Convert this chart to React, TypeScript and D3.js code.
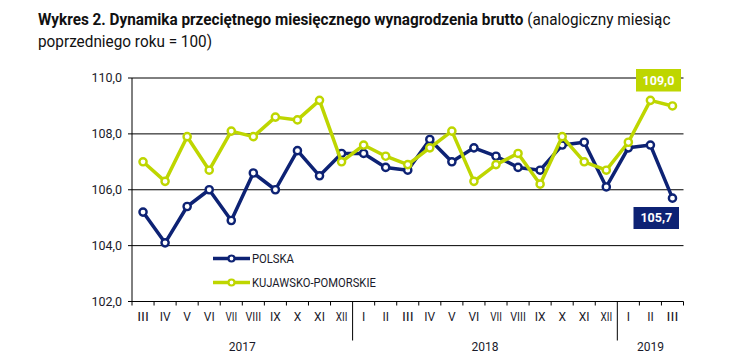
import React, { useLayoutEffect, useRef, useState } from "react";
import * as d3 from "d3";

const months = ["III","IV","V","VI","VII","VIII","IX","X","XI","XII","I","II","III","IV","V","VI","VII","VIII","IX","X","XI","XII","I","II","III"];
const years = [
  { label: "2017", start: 0, end: 10 },
  { label: "2018", start: 10, end: 22 },
  { label: "2019", start: 22, end: 25 },
];
const polska = [105.2,104.1,105.4,106.0,104.9,106.6,106.0,107.4,106.5,107.3,107.3,106.8,106.7,107.8,107.0,107.5,107.2,106.8,106.7,107.6,107.7,106.1,107.5,107.6,105.7];
const kujawsko = [107.0,106.3,107.9,106.7,108.1,107.9,108.6,108.5,109.2,107.0,107.6,107.2,106.9,107.5,108.1,106.3,106.9,107.3,106.2,107.9,107.0,106.7,107.7,109.2,109.0];
const yTicks = [102,104,106,108,110];
const seriesNames = ["POLSKA", "KUJAWSKO-POMORSKIE"];
const titleBold = "Wykres 2. Dynamika przeciętnego miesięcznego wynagrodzenia brutto";
const titleRest = " (analogiczny miesiąc";
const titleLine2 = "poprzedniego roku = 100)";

const NAVY = "#0d2274";
const GREEN = "#bed600";
const FONT = "Roboto, 'Noto Sans', sans-serif";

export default function App() {
  const W = 743, H = 362;
  const left = 132, right = 683.5, top = 78, bottom = 301.5;
  const x = d3.scaleBand<number>().domain(d3.range(months.length)).range([left, right]);
  const y = d3.scaleLinear().domain([102, 110]).range([bottom, top]);
  const cx = (i: number) => (x(i) as number) + x.bandwidth() / 2;
  const line = d3.line<number>().x((_, i) => cx(i)).y((d) => y(d));
  const fmt = (v: number) => v.toFixed(1).replace(".", ",");
  const series = [
    { name: seriesNames[0], data: polska, color: NAVY, len: 42 },
    { name: seriesNames[1], data: kujawsko, color: GREEN, len: 124 },
  ];
  const lastI = months.length - 1;
  const bandEdge = (i: number) => (i < months.length ? (x(i) as number) : right);

  const t1 = useRef<SVGTextElement>(null);
  const t2 = useRef<SVGTextElement>(null);
  const legRefs = useRef<(SVGTextElement | null)[]>([]);
  const [s1, setS1] = useState(0.8);
  const [s2, setS2] = useState(0.85);
  const [ls, setLs] = useState<number[]>([1, 1]);
  useLayoutEffect(() => {
    if (t1.current) setS1(632 / t1.current.getComputedTextLength());
    if (t2.current) setS2(174 / t2.current.getComputedTextLength());
    setLs(series.map((s, k) => {
      const el = legRefs.current[k];
      return el ? s.len / el.getComputedTextLength() : 1;
    }));
  }, []);

  return (
    <svg width={W} height={H} style={{ position: "absolute", left: 0, top: 0, background: "#fff" }}>
      {/* title */}
      <g transform={`translate(38,25) scale(${s1},1)`}>
        <text ref={t1} x={0} y={0} fontFamily={FONT} fontSize={16} fill="#111">
          <tspan fontWeight={700}>{titleBold}</tspan>
          <tspan>{titleRest}</tspan>
        </text>
      </g>
      <g transform={`translate(38,47) scale(${s2},1)`}>
        <text ref={t2} x={0} y={0} fontFamily={FONT} fontSize={16} fill="#111">
          {titleLine2}
        </text>
      </g>

      {/* gridlines & y labels */}
      {yTicks.map((t) => (
        <g key={t}>
          <line x1={left - 4} x2={right} y1={y(t)} y2={y(t)} stroke="#000" strokeWidth={1} />
          <text x={122} y={y(t)} dy="0.35em" textAnchor="end" fontFamily={FONT} fontSize={12.5} fill="#1a1a2a">
            {fmt(t)}
          </text>
        </g>
      ))}
      <line x1={left} x2={left} y1={top} y2={bottom} stroke="#000" strokeWidth={1} />

      {/* x ticks */}
      {d3.range(months.length + 1).map((i) => {
        const isYear = years.some((yr) => yr.start === i && i !== 0);
        return (
          <line key={"t" + i} x1={bandEdge(i)} x2={bandEdge(i)} y1={bottom}
            y2={isYear ? bottom + 39 : bottom + 4} stroke="#000" strokeWidth={1} />
        );
      })}
      {months.map((m, i) => (
        <text key={"m" + i} x={cx(i)} y={321} textAnchor="middle" fontFamily={FONT} fontSize={12} fill="#1a1a2a"
          textLength={m.length > 2 ? m.length * 3.9 : undefined} lengthAdjust="spacingAndGlyphs">
          {m}
        </text>
      ))}
      {years.map((yr) => (
        <text key={yr.label} x={(bandEdge(yr.start) + bandEdge(yr.end)) / 2} y={351} textAnchor="middle"
          fontFamily={FONT} fontSize={12} fill="#1a1a2a">
          {yr.label}
        </text>
      ))}

      {/* series */}
      {series.map((s) => (
        <g key={s.name}>
          <path d={line(s.data) || ""} fill="none" stroke={s.color} strokeWidth={3.5} strokeLinejoin="round" />
          {s.data.map((v, i) => (
            <circle key={i} cx={cx(i)} cy={y(v)} r={3.6} fill="#fff" stroke={s.color} strokeWidth={2.4} />
          ))}
        </g>
      ))}

      {/* end labels */}
      <rect x={636} y={69} width={45} height={22.5} fill={GREEN} />
      <text x={658.5} y={80.5} dy="0.35em" textAnchor="middle" fontFamily={FONT} fontSize={12.5} fontWeight={700} fill="#fff">
        {fmt(kujawsko[lastI])}
      </text>
      <rect x={633.5} y={207} width={45.5} height={22} fill={NAVY} />
      <text x={656.3} y={218} dy="0.35em" textAnchor="middle" fontFamily={FONT} fontSize={12.5} fontWeight={700} fill="#fff">
        {fmt(polska[lastI])}
      </text>

      {/* legend */}
      {series.map((s, k) => {
        const ly = 258.5 + k * 24;
        return (
          <g key={"lg" + k}>
            <line x1={213} x2={250} y1={ly} y2={ly} stroke={s.color} strokeWidth={3.5} />
            <circle cx={231.5} cy={ly} r={3} fill="#fff" stroke={s.color} strokeWidth={2.2} />
            <g transform={`translate(252,${ly}) scale(${ls[k]},1)`}>
              <text ref={(el) => { legRefs.current[k] = el; }} x={0} y={0} dy="0.35em"
                fontFamily={FONT} fontSize={12.5} fill="#1a1a2a">
                {s.name}
              </text>
            </g>
          </g>
        );
      })}
    </svg>
  );
}
